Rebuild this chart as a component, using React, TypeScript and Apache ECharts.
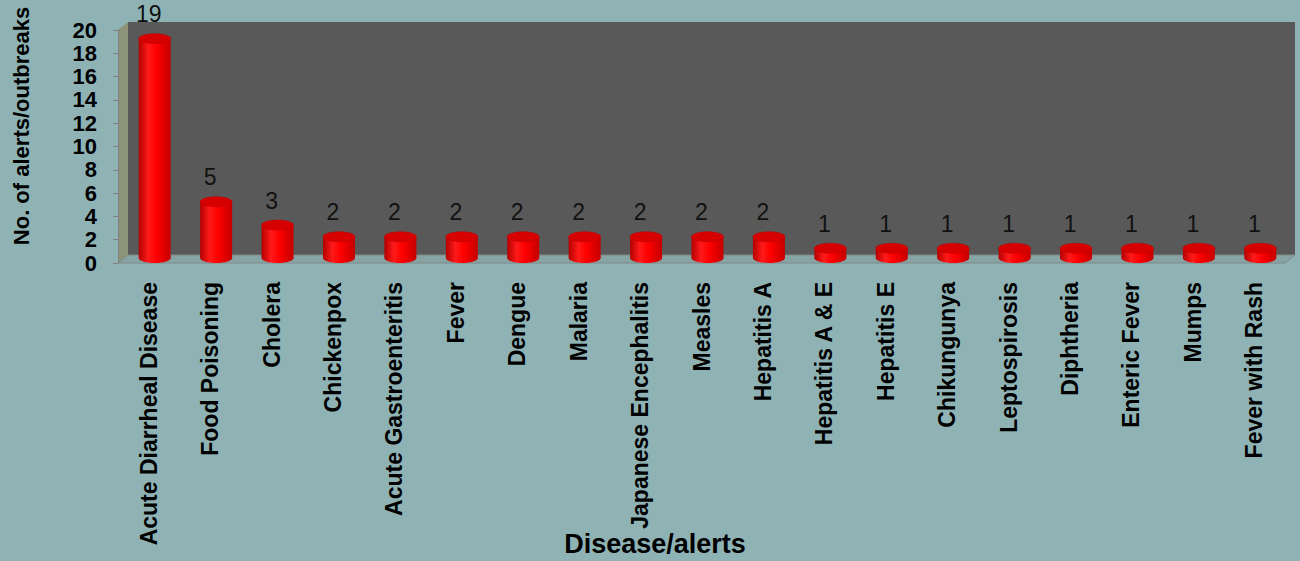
import React, { useEffect, useRef } from "react";
import * as echarts from "echarts";

const categories = [
  "Acute Diarrheal Disease",
  "Food Poisoning",
  "Cholera",
  "Chickenpox",
  "Acute Gastroenteritis",
  "Fever",
  "Dengue",
  "Malaria",
  "Japanese Encephalitis",
  "Measles",
  "Hepatitis A",
  "Hepatitis A & E",
  "Hepatitis E",
  "Chikungunya",
  "Leptospirosis",
  "Diphtheria",
  "Enteric Fever",
  "Mumps",
  "Fever with Rash",
];
const values = [19, 5, 3, 2, 2, 2, 2, 2, 2, 2, 2, 1, 1, 1, 1, 1, 1, 1, 1];
const yTicks = { min: 0, max: 20, interval: 2 };
const yTitle = "No. of alerts/outbreaks";
const xTitle = "Disease/alerts";

const W = 1300;
const H = 561;
const G = { left: 118, right: 15, top: 30, bottom: 298 };
const DEPTH_X = 10;
const DEPTH_Y = 8;

const NARROW = "'Liberation Sans Narrow', 'Arial Narrow', sans-serif";
const SANS = "'Liberation Sans', Arial, sans-serif";

export default function App() {
  const ref = useRef<HTMLDivElement>(null);
  useEffect(() => {
    if (!ref.current) return;
    const chart = echarts.init(ref.current, undefined, { renderer: "svg" });
    const gx0 = G.left;
    const gx1 = W - G.right;
    const gy0 = G.top;
    const gy1 = H - G.bottom;

    const bodyGrad = new echarts.graphic.LinearGradient(0, 0, 1, 0, [
      { offset: 0, color: "#B30000" },
      { offset: 0.3, color: "#FF1A1A" },
      { offset: 0.55, color: "#FF0000" },
      { offset: 1, color: "#C40000" },
    ]);

    const option: any = {
      animation: false,
      backgroundColor: "#8FB3B5",
      grid: {
        left: G.left,
        right: G.right,
        top: G.top,
        bottom: G.bottom,
        containLabel: false,
        outerBoundsMode: "none",
      },
      graphic: [
        {
          type: "rect",
          z: 0,
          shape: { x: gx0 + DEPTH_X, y: gy0 - DEPTH_Y, width: gx1 - gx0, height: gy1 - gy0 },
          style: { fill: "#595959" },
          silent: true,
        },
        {
          type: "polygon",
          z: 0,
          shape: {
            points: [
              [gx0, gy0],
              [gx0 + DEPTH_X, gy0 - DEPTH_Y],
              [gx0 + DEPTH_X, gy1 - DEPTH_Y],
              [gx0, gy1],
            ],
          },
          style: { fill: "#8D9379" },
          silent: true,
        },
        {
          type: "polygon",
          z: 0,
          shape: {
            points: [
              [gx0, gy1],
              [gx0 + DEPTH_X, gy1 - DEPTH_Y],
              [gx1 + DEPTH_X, gy1 - DEPTH_Y],
              [gx1, gy1],
            ],
          },
          style: { fill: "#87A3A4", stroke: "#7E8A8A", lineWidth: 1 },
          silent: true,
        },
        {
          type: "text",
          z: 10,
          x: 21,
          y: 126,
          rotation: Math.PI / 2,
          style: {
            text: yTitle,
            align: "center",
            verticalAlign: "middle",
            fill: "#000",
            font: `bold 22px ${NARROW}`,
          },
        },
        {
          type: "text",
          z: 10,
          x: 655,
          y: 544,
          style: {
            text: xTitle,
            align: "center",
            verticalAlign: "middle",
            fill: "#000",
            font: `bold 27px ${NARROW}`,
          },
        },
      ],
      xAxis: {
        type: "category",
        data: categories,
        axisLine: { show: false },
        axisTick: { show: false },
        axisLabel: {
          rotate: 90,
          interval: 0,
          margin: 19,
          color: "#000",
          fontWeight: "bold",
          fontSize: 23,
          fontFamily: NARROW,
        },
      },
      yAxis: {
        type: "value",
        min: yTicks.min,
        max: yTicks.max,
        interval: yTicks.interval,
        axisLine: { show: true, lineStyle: { color: "#808080", width: 1 } },
        axisTick: { show: true, length: 5, lineStyle: { color: "#808080" } },
        splitLine: { show: false },
        axisLabel: {
          color: "#000",
          fontWeight: "bold",
          fontSize: 22,
          lineHeight: 22,
          fontFamily: SANS,
          margin: 21,
          showMinLabel: true,
          showMaxLabel: true,
          hideOverlap: false,
        },
      },
      series: [
        {
          type: "custom",
          z: 5,
          data: values.map((v, i) => [i, v]),
          encode: { x: 0, y: 1 },
          renderItem: (params: any, api: any) => {
            const idx = api.value(0);
            const v = api.value(1);
            const top = api.coord([idx, v]);
            const base = api.coord([idx, 0]);
            const bw = api.size([1, 0])[0];
            const w = Math.round(bw * 0.52);
            const cx = top[0] + 6;
            const rx = w / 2;
            const ry = 5;
            const yTop = top[1] - 3;
            const yBot = base[1] - 5;
            return {
              type: "group",
              children: [
                {
                  type: "ellipse",
                  shape: { cx, cy: yBot, rx, ry },
                  style: { fill: bodyGrad },
                },
                {
                  type: "rect",
                  shape: { x: cx - rx, y: yTop, width: w, height: Math.max(0, yBot - yTop) },
                  style: { fill: bodyGrad },
                },
                {
                  type: "ellipse",
                  shape: { cx, cy: yTop, rx, ry },
                  style: { fill: "#D60000", stroke: "#C00000", lineWidth: 0.5 },
                },
                {
                  type: "text",
                  style: {
                    text: String(v),
                    x: top[0],
                    y: top[1] - 16,
                    align: "center",
                    verticalAlign: "bottom",
                    fill: "#111",
                    font: `23px ${SANS}`,
                  },
                },
              ],
            };
          },
        },
      ],
    };
    chart.setOption(option);
    return () => chart.dispose();
  }, []);
  return (
    <div
      ref={ref}
      style={{ position: "fixed", left: 0, top: 0, width: W, height: H }}
    />
  );
}
